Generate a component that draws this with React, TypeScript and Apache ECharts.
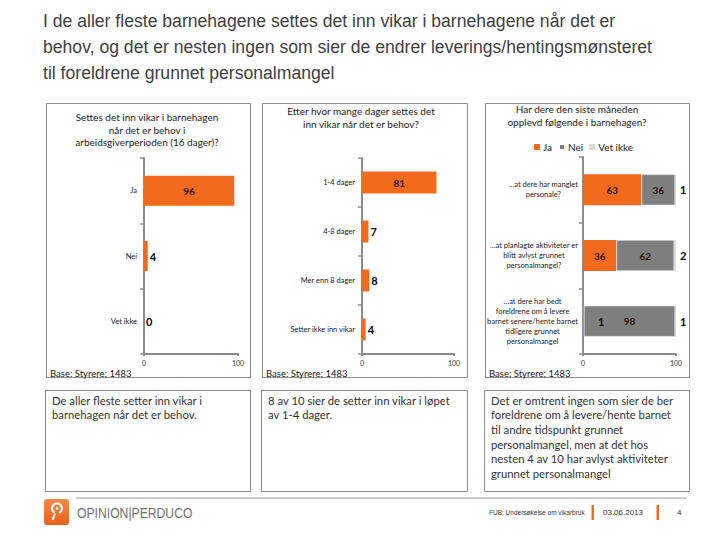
import React, { useEffect, useRef } from "react";
import * as echarts from "echarts";

// ---------- data ----------
const titleLines = [
  "I de aller fleste barnehagene settes det inn vikar i barnehagene når det er",
  "behov, og det er nesten ingen som sier de endrer leverings/hentingsmønsteret",
  "til foreldrene grunnet personalmangel",
];

const p1Title = "Settes det inn vikar i barnehagen\nnår det er behov i\narbeidsgiverperioden (16 dager)?";
const p1Categories = ["Ja", "Nei", "Vet ikke"];
const p1Values = [96, 4, 0];

const p2Title = "Etter hvor mange dager settes det\ninn vikar når det er behov?";
const p2Categories = ["1-4 dager", "4-8 dager", "Mer enn 8 dager", "Setter ikke inn vikar"];
const p2Values = [81, 7, 8, 4];

const p3Title = "Har dere den siste måneden\nopplevd følgende i barnehagen?";
const p3Categories = [
  "…at dere har manglet\npersonale?",
  "…at planlagte aktiviteter er\nblitt avlyst grunnet\npersonalmangel?",
  "…at dere har bedt\nforeldrene om å levere\nbarnet senere/hente barnet\ntidligere grunnet\npersonalmangel",
];
const p3SeriesNames = ["Ja", "Nei", "Vet ikke"];
const p3Ja = [63, 36, 1];
const p3Nei = [36, 62, 98];
const p3VetIkke = [1, 2, 1];

const axisMin = 0;
const axisMax = 100;
const baseText = "Base: Styrere; 1483";

const comments = [
  "De aller fleste setter inn vikar i\nbarnehagen når det er behov.",
  "8 av 10 sier de setter inn vikar i løpet\nav 1-4 dager.",
  "Det er omtrent ingen som sier de ber\nforeldrene om å levere/hente barnet\ntil andre tidspunkt grunnet\npersonalmangel, men at det hos\nnesten 4 av 10 har avlyst aktiviteter\ngrunnet personalmangel",
];

const footerLeft = "OPINION|PERDUCO";
const footerSource = "FUB; Undersøkelse om vikarbruk";
const footerDate = "03.06.2013";
const footerPage = "4";

// ---------- styles ----------
const ORANGE = "#F26A1B";
const GRAY = "#7F7F7F";
const LIGHT = "#D9D9D9";
const AXIS = "#8C8C8C";
const FONT = "Lato, 'Open Sans', sans-serif";

const panels = [
  { x: 46, w: 204 },
  { x: 262, w: 205 },
  { x: 485, w: 204 },
];

function xAxisCfg(gridIndex: number) {
  return {
    gridIndex,
    type: "value",
    min: axisMin,
    max: axisMax,
    interval: 100,
    axisLine: { show: true, lineStyle: { color: AXIS, width: 2 } },
    axisTick: { show: true, length: 2, lineStyle: { color: AXIS, width: 2 } },
    splitLine: { show: false },
    axisLabel: { fontSize: 7, color: "#333", margin: 5, fontFamily: FONT },
  };
}

function yAxisCfg(gridIndex: number, data: string[], rich: boolean) {
  const axisLabel: any = {
    fontSize: 7.5,
    color: "#222",
    margin: rich ? 5 : 7,
    fontFamily: FONT,
  };
  if (rich) {
    axisLabel.formatter = (v: string) =>
      v
        .split("\n")
        .map((l) => `{c|${l}}`)
        .join("\n");
    axisLabel.rich = { c: { align: "center", fontSize: 7.5, lineHeight: 10, color: "#222", fontFamily: FONT } };
  }
  return {
    gridIndex,
    type: "category",
    inverse: true,
    data,
    axisLine: { show: true, lineStyle: { color: AXIS, width: 2 } },
    axisTick: { show: true, length: 4, lineStyle: { color: AXIS, width: 1.5 } },
    axisLabel,
  };
}

function singleBarData(values: number[]) {
  return values.map((v) =>
    v >= 15
      ? { value: v, label: { position: "inside", fontSize: 10, color: "#2a1608" } }
      : { value: v, label: { position: "right", distance: 2, fontSize: 11, color: "#000" } }
  );
}

export default function App() {
  const ref = useRef<HTMLDivElement>(null);

  useEffect(() => {
    if (!ref.current) return;
    const chart = echarts.init(ref.current, undefined, { renderer: "svg" });

    const graphics: any[] = [];

    // title
    graphics.push({
      type: "text",
      x: 43,
      y: 8,
      style: {
        text: titleLines.join("\n"),
        font: "17.6px 'Liberation Sans', Arial, sans-serif",
        fill: "#404040",
        lineHeight: 26,
      },
    });

    // panel boxes
    panels.forEach((p) => {
      graphics.push({
        type: "rect",
        shape: { x: p.x + 0.5, y: 103.5, width: p.w, height: 274 },
        style: { fill: "none", stroke: AXIS, lineWidth: 1 },
      });
      graphics.push({
        type: "text",
        x: p.x + 4,
        y: 373,
        style: { text: baseText, font: `9.5px ${FONT}`, fill: "#222", verticalAlign: "middle" },
      });
    });

    // panel titles
    const panelTitles = [
      { t: p1Title, cx: 147, y: 111 },
      { t: p2Title, cx: 361, y: 105 },
      { t: p3Title, cx: 577, y: 103 },
    ];
    panelTitles.forEach((pt) => {
      graphics.push({
        type: "text",
        x: pt.cx,
        y: pt.y,
        style: {
          text: pt.t,
          font: `10px ${FONT}`,
          fill: "#222",
          align: "center",
          lineHeight: 12.5,
        },
      });
    });

    // comment boxes
    panels.forEach((p, i) => {
      graphics.push({
        type: "rect",
        shape: { x: p.x - 0.5, y: 390.5, width: p.w + 1, height: 101 },
        style: { fill: "none", stroke: AXIS, lineWidth: 1 },
      });
      graphics.push({
        type: "text",
        x: p.x + 6,
        y: 393,
        style: { text: comments[i], font: `11.3px ${FONT}`, fill: "#333", lineHeight: 14.6 },
      });
    });

    // footer line
    graphics.push({
      type: "line",
      shape: { x1: 76, y1: 498, x2: 687, y2: 498 },
      style: { stroke: "#9a9a9a", lineWidth: 1 },
    });

    // logo
    graphics.push({
      type: "rect",
      shape: { x: 44, y: 499, width: 25, height: 26, r: 3 },
      style: {
        fill: new echarts.graphic.LinearGradient(0, 0, 0, 1, [
          { offset: 0, color: "#F58A4B" },
          { offset: 1, color: "#E8601A" },
        ]),
      },
    });
    graphics.push({
      type: "arc",
      shape: { cx: 57, cy: 508.5, r: 5, startAngle: Math.PI * 0.65, endAngle: Math.PI * 2.35 },
      style: { stroke: "#fff", lineWidth: 2, fill: "none" },
    });
    graphics.push({
      type: "circle",
      shape: { cx: 57, cy: 508.5, r: 1.4 },
      style: { fill: "#fff" },
    });
    graphics.push({
      type: "line",
      shape: { x1: 55, y1: 513.5, x2: 52.5, y2: 520 },
      style: { stroke: "#fff", lineWidth: 2 },
    });
    graphics.push({
      type: "text",
      x: 77,
      y: 513,
      scaleX: 0.87,
      originX: 0,
      style: {
        text: footerLeft,
        font: "14px 'Liberation Sans', Arial, sans-serif",
        fill: "#707070",
        verticalAlign: "middle",
      },
    });

    // footer right
    graphics.push({
      type: "text",
      x: 489,
      y: 512,
      style: { text: footerSource, font: "6.5px 'Liberation Sans', Arial, sans-serif", fill: "#333", verticalAlign: "middle" },
    });
    graphics.push({ type: "rect", shape: { x: 591.5, y: 505, width: 2.5, height: 15 }, style: { fill: ORANGE } });
    graphics.push({
      type: "text",
      x: 603,
      y: 512,
      style: { text: footerDate, font: "8px 'Liberation Sans', Arial, sans-serif", fill: "#333", verticalAlign: "middle" },
    });
    graphics.push({ type: "rect", shape: { x: 656.5, y: 505, width: 2.5, height: 15 }, style: { fill: ORANGE } });
    graphics.push({
      type: "text",
      x: 677,
      y: 512,
      style: { text: footerPage, font: "8px 'Liberation Sans', Arial, sans-serif", fill: "#333", verticalAlign: "middle" },
    });

    const p3Data = [p3Ja, p3Nei, p3VetIkke];
    const p3Colors = [ORANGE, GRAY, LIGHT];

    const option: any = {
      animation: false,
      textStyle: { fontFamily: FONT },
      grid: [
        { left: 144, top: 158, width: 94, height: 196, outerBoundsMode: "none", containLabel: false },
        { left: 362, top: 158, width: 92, height: 196, outerBoundsMode: "none", containLabel: false },
        { left: 583, top: 157, width: 93, height: 197, outerBoundsMode: "none", containLabel: false },
      ],
      xAxis: [xAxisCfg(0), xAxisCfg(1), xAxisCfg(2)],
      yAxis: [
        yAxisCfg(0, p1Categories, false),
        yAxisCfg(1, p2Categories, false),
        yAxisCfg(2, p3Categories, true),
      ],
      legend: {
        data: p3SeriesNames,
        left: 529,
        top: 137,
        itemWidth: 6,
        itemHeight: 6,
        itemGap: 6,
        icon: "rect",
        textStyle: { fontSize: 10, color: "#222", fontFamily: FONT, padding: [0, 0, 0, -2] },
        selectedMode: false,
      },
      series: [
        {
          name: "p1",
          type: "bar",
          xAxisIndex: 0,
          yAxisIndex: 0,
          barWidth: 30,
          itemStyle: { color: ORANGE },
          label: { show: true, fontWeight: "bold", fontFamily: FONT },
          data: singleBarData(p1Values),
        },
        {
          name: "p2",
          type: "bar",
          xAxisIndex: 1,
          yAxisIndex: 1,
          barWidth: 22,
          itemStyle: { color: ORANGE },
          label: { show: true, fontWeight: "bold", fontFamily: FONT },
          data: singleBarData(p2Values),
        },
        ...p3SeriesNames.map((name, si) => ({
          name,
          type: "bar",
          stack: "p3",
          xAxisIndex: 2,
          yAxisIndex: 2,
          barWidth: 31,
          itemStyle: { color: p3Colors[si], borderColor: "#fff", borderWidth: si === 1 ? 0.5 : 0 },
          label: { show: true, fontWeight: "bold", fontFamily: FONT },
          data: p3Data[si].map((v) =>
            si === 2
              ? { value: v, label: { position: "right", distance: 4, fontSize: 11, color: "#000" } }
              : v >= 15
              ? { value: v, label: { position: "inside", fontSize: 10, color: "#2a1608" } }
              : { value: v, label: { position: "right", distance: 14, fontSize: 11, color: "#000" } }
          ),
        })),
      ],
      graphic: graphics,
    };

    chart.setOption(option);
    return () => chart.dispose();
  }, []);

  return (
    <div
      ref={ref}
      style={{ position: "fixed", left: 0, top: 0, width: 720, height: 540, background: "#fff" }}
    />
  );
}
